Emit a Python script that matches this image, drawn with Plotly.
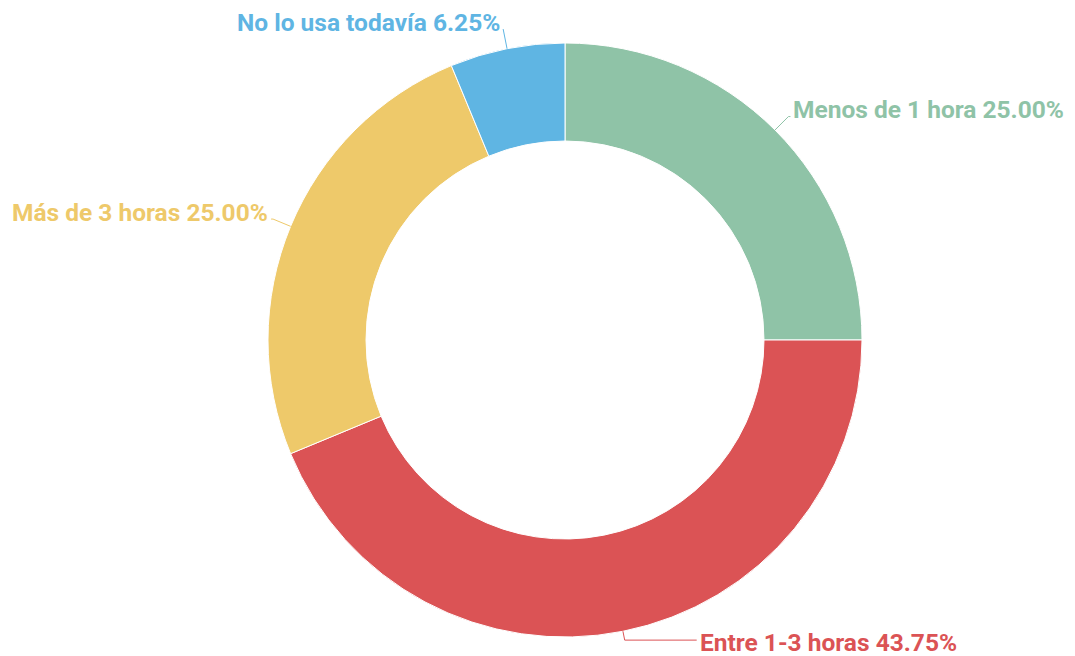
import math
import plotly.graph_objects as go

W, H = 1075, 656
OFF = 8  # page body margin added by the html page

LABELS = ["Menos de 1 hora", "Entre 1-3 horas", "Más de 3 horas", "No lo usa todavía"]
VALUES = [4, 7, 4, 1]
COLORS = ["#8fc3a7", "#db5355", "#eec96a", "#5fb5e3"]

# pie geometry in window pixels
CX, CY, R = 565, 340, 297
HOLE = 0.67


def px(x):
    return (x - OFF) / W


def py(y):
    return 1 - (y - OFF) / H


def main():
    total = sum(VALUES)

    fig = go.Figure()
    fig.add_trace(
        go.Pie(
            labels=LABELS,
            values=VALUES,
            sort=False,
            direction="clockwise",
            rotation=0,
            hole=HOLE,
            textinfo="none",
            hoverinfo="label+percent",
            marker=dict(colors=COLORS, line=dict(color="white", width=1)),
            domain=dict(x=[px(CX - R), px(CX + R)], y=[py(CY + R), py(CY - R)]),
            showlegend=False,
        )
    )

    # leader line lengths (radial, horizontal) per slice
    leg1 = [19, 9, 19, 20]
    leg2 = [2, 72, 2, 0]
    shapes = []
    annotations = []
    cum = 0
    for label, v, color, l1, l2 in zip(LABELS, VALUES, COLORS, leg1, leg2):
        mid = (cum + v / 2) / total * 2 * math.pi
        cum += v
        s, c = math.sin(mid), math.cos(mid)
        x1, y1 = CX + R * s, CY - R * c
        x2, y2 = CX + (R + l1) * s, CY - (R + l1) * c
        side = 1 if s >= 0 else -1
        x3 = x2 + side * l2
        path = f"M {px(x1)},{py(y1)} L {px(x2)},{py(y2)} L {px(x3)},{py(y2)}"
        shapes.append(dict(type="path", xref="paper", yref="paper", path=path,
                           line=dict(color=color, width=1)))
        pct = v / total * 100
        ty = y2 - 7 if c > -0.9 else y2 + 2
        annotations.append(dict(
            x=px(x3 + side * 1), y=py(ty), xref="paper", yref="paper",
            text=f"{label} {pct:.2f}%", showarrow=False,
            xanchor="left" if side > 0 else "right", yanchor="middle",
            font=dict(family="Roboto", size=24.5, color=color, weight="bold"),
        ))

    fig.update_layout(
        width=W,
        height=H,
        margin=dict(t=0, b=0, l=0, r=0),
        paper_bgcolor="white",
        plot_bgcolor="white",
        shapes=shapes,
        annotations=annotations,
    )

    fig.write_html("out.html")


if __name__ == "__main__":
    main()
